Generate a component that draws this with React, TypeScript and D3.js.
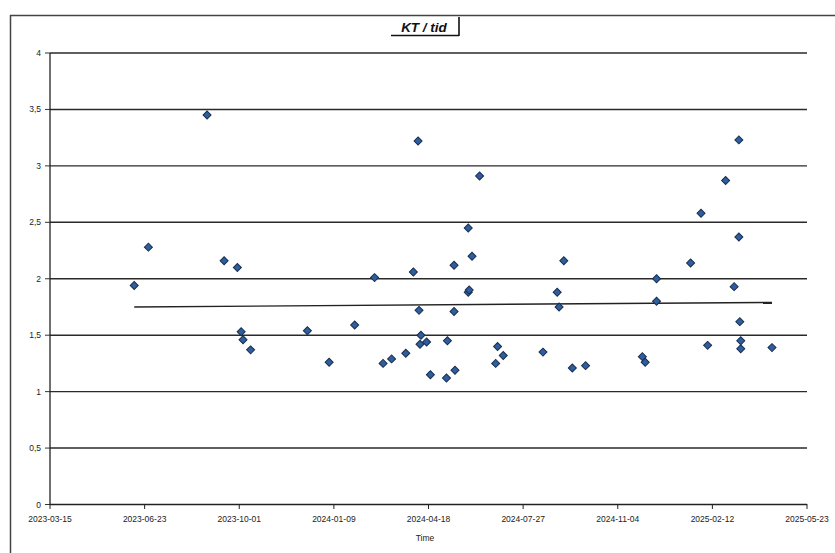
import React from "react";
import * as d3 from "d3";

const dates: string[] = [
  "2023-06-12", "2023-06-27", "2023-08-28", "2023-09-15", "2023-09-29", "2023-10-03", "2023-10-05", "2023-10-13",
  "2023-12-12", "2024-01-04", "2024-01-31", "2024-02-21", "2024-03-01", "2024-03-10", "2024-03-25", "2024-04-02",
  "2024-04-07", "2024-04-08", "2024-04-10", "2024-04-09", "2024-04-16", "2024-04-20", "2024-05-08", "2024-05-07",
  "2024-05-15", "2024-05-15", "2024-05-16", "2024-05-30", "2024-05-30", "2024-05-31", "2024-06-03", "2024-06-11",
  "2024-06-28", "2024-06-30", "2024-07-06", "2024-08-17", "2024-09-01", "2024-09-03", "2024-09-08", "2024-09-17",
  "2024-10-01", "2024-11-30", "2024-12-03", "2024-12-15", "2024-12-15", "2025-01-20", "2025-01-31", "2025-02-07",
  "2025-02-26", "2025-03-12", "2025-03-12", "2025-03-07", "2025-03-13", "2025-03-14", "2025-03-14", "2025-04-16",
];
const values: number[] = [
  1.94, 2.28, 3.45, 2.16, 2.10, 1.53, 1.46, 1.37,
  1.54, 1.26, 1.59, 2.01, 1.25, 1.29, 1.34, 2.06,
  3.22, 1.72, 1.50, 1.42, 1.44, 1.15, 1.45, 1.12,
  1.71, 2.12, 1.19, 2.45, 1.88, 1.90, 2.20, 2.91,
  1.25, 1.40, 1.32, 1.35, 1.88, 1.75, 2.16, 1.21,
  1.23, 1.31, 1.26, 2.00, 1.80, 2.14, 2.58, 1.41,
  2.87, 3.23, 2.37, 1.93, 1.62, 1.45, 1.38, 1.39,
];
const trendDates: string[] = ["2023-06-12", "2025-04-16"];
const trendValues: number[] = [1.75, 1.79];
const xTickLabels: string[] = [
  "2023-03-15", "2023-06-23", "2023-10-01", "2024-01-09", "2024-04-18",
  "2024-07-27", "2024-11-04", "2025-02-12", "2025-05-23",
];
const yTicks: number[] = [0, 0.5, 1, 1.5, 2, 2.5, 3, 3.5, 4];
const title = "KT / tid";
const xTitle = "Time";

const parse = d3.utcParse("%Y-%m-%d");

export default function App() {
  const W = 835, H = 553;
  const x = d3
    .scaleUtc()
    .domain([parse(xTickLabels[0])!, parse(xTickLabels[xTickLabels.length - 1])!])
    .range([50, 807]);
  const y = d3.scaleLinear().domain([0, 4]).range([504.5, 53]);
  const fmt = (v: number) => String(v).replace(".", ",");
  const sym = d3.symbol(d3.symbolSquare, 32)();
  const trendLine = d3
    .line<number>()
    .x((_, i) => x(parse(trendDates[i])!))
    .y((v) => y(v))(trendValues);
  const font = "'Liberation Sans', Arial, sans-serif";
  return (
    <svg
      width={W}
      height={H}
      style={{ position: "absolute", left: 0, top: 0, background: "#fff" }}
      fontFamily={font}
    >
      <rect x={0} y={0} width={W} height={H} fill="#fff" />
      {/* outer frame */}
      <line x1={10} y1={15.5} x2={W} y2={15.5} stroke="#444" strokeWidth={1.5} />
      <line x1={10.5} y1={15} x2={10.5} y2={H} stroke="#444" strokeWidth={1.5} />
      {/* title */}
      <text x={424} y={32} textAnchor="middle" fontSize={13.5} fontWeight="bold" fontStyle="italic" fill="#111">
        {title}
      </text>
      <line x1={391} y1={35.5} x2={459} y2={35.5} stroke="#111" strokeWidth={1.6} />
      <line x1={459} y1={17} x2={459} y2={36} stroke="#111" strokeWidth={1.6} />
      {/* gridlines and y ticks */}
      {yTicks.map((t) => (
        <g key={t}>
          {t > 0 && (
            <line x1={50} x2={807} y1={y(t)} y2={y(t)} stroke="#2a2a2a" strokeWidth={1.4} />
          )}
          <line x1={45} x2={50} y1={y(t)} y2={y(t)} stroke="#333" strokeWidth={1} />
          <text x={41} y={y(t) + 3} textAnchor="end" fontSize={8.5} fill="#222">
            {fmt(t)}
          </text>
        </g>
      ))}
      {/* axes */}
      <line x1={50} x2={50} y1={53} y2={505} stroke="#222" strokeWidth={1.3} />
      <line x1={50} x2={807} y1={504.5} y2={504.5} stroke="#222" strokeWidth={1.3} />
      {xTickLabels.map((l) => {
        const px = x(parse(l)!);
        return (
          <g key={l}>
            <line x1={px} x2={px} y1={504} y2={509} stroke="#222" strokeWidth={1} />
            <text x={px} y={522} textAnchor="middle" fontSize={8.5} fill="#222">
              {l}
            </text>
          </g>
        );
      })}
      <text x={425} y={541} textAnchor="middle" fontSize={8.5} fill="#222">
        {xTitle}
      </text>
      {/* trend line */}
      <path d={trendLine ?? ""} stroke="#222" strokeWidth={1.4} fill="none" />
      {/* points */}
      {dates.map((d, i) => (
        <path
          key={i}
          d={sym ?? ""}
          transform={`translate(${x(parse(d)!)},${y(values[i])}) rotate(45)`}
          fill="#2d5f9e"
          stroke="#1a2c4e"
          strokeWidth={1}
        />
      ))}
    </svg>
  );
}
